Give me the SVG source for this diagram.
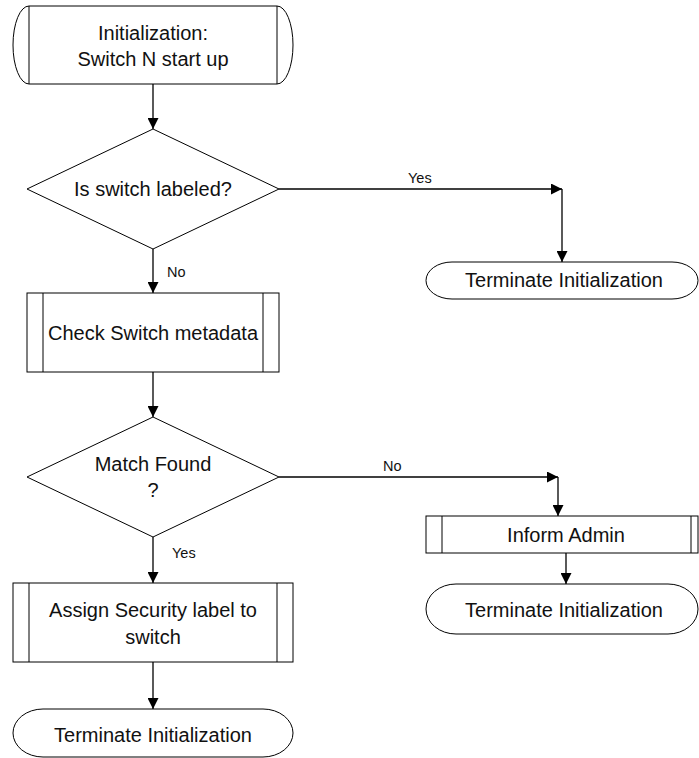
<svg xmlns="http://www.w3.org/2000/svg" width="699" height="758" viewBox="0 0 699 758">
<defs>
<marker id="arr" markerWidth="11" markerHeight="11" refX="11" refY="5.5" orient="auto" markerUnits="userSpaceOnUse">
<path d="M0,0 L11,5.5 L0,11 Z" fill="#000"/>
</marker>
<style>
.s{fill:#fff;stroke:#000;stroke-width:1}
.l{fill:none;stroke:#000;stroke-width:1}
.c{fill:none;stroke:#000;stroke-width:1.3;marker-end:url(#arr)}
.t{font-family:"Liberation Sans",Arial,sans-serif;font-size:20px;fill:#111;text-anchor:middle}
.e{font-family:"Liberation Sans",Arial,sans-serif;font-size:14.5px;fill:#111}
</style>
</defs>
<rect width="699" height="758" fill="#fff"/>
<g id="connectors">
<path class="c" d="M153,84 V129"/>
<path class="c" d="M153,249 V293"/>
<path class="c" d="M279,189 H562"/>
<path class="c" d="M562,189 V262"/>
<path class="c" d="M153,372 V417"/>
<path class="c" d="M279,477 H558"/>
<path class="c" d="M558,477 V516"/>
<path class="c" d="M566,553 V584"/>
<path class="c" d="M153,537 V583"/>
<path class="c" d="M153,662 V709"/>
<text class="e" x="408" y="183">Yes</text>
<text class="e" x="167" y="277">No</text>
<text class="e" x="383" y="471">No</text>
<text class="e" x="172" y="558">Yes</text>
</g>
<g id="start">
<path class="s" d="M29,6 H277 A16,39 0 0 1 277,84 H29 A16,39 0 0 1 29,6 Z"/>
<path class="l" d="M29,6 V84 M277,6 V84"/>
<text class="t" x="153" y="39.5">Initialization:</text>
<text class="t" x="153" y="65.5">Switch N start up</text>
</g>
<g id="decision1">
<path class="s" d="M153,129 L279,189 L153,249 L27,189 Z"/>
<text class="t" x="153" y="196">Is switch labeled?</text>
</g>
<g id="terminate1">
<rect class="s" x="426" y="262" width="272" height="37" rx="26" ry="18.5"/>
<text class="t" x="564" y="287">Terminate Initialization</text>
</g>
<g id="check">
<rect class="s" x="27" y="293" width="252" height="79"/>
<path class="l" d="M43,293 V372 M263,293 V372"/>
<text class="t" x="153" y="340">Check Switch metadata</text>
</g>
<g id="decision2">
<path class="s" d="M153,417 L279,477 L153,537 L27,477 Z"/>
<text class="t" x="153" y="471">Match Found</text>
<text class="t" x="153" y="497">?</text>
</g>
<g id="inform">
<rect class="s" x="426" y="516" width="272" height="37"/>
<path class="l" d="M442,516 V553 M691,516 V553"/>
<text class="t" x="566" y="542">Inform Admin</text>
</g>
<g id="terminate2">
<rect class="s" x="426" y="584" width="272" height="50" rx="30" ry="25"/>
<text class="t" x="564" y="617">Terminate Initialization</text>
</g>
<g id="assign">
<rect class="s" x="13" y="583" width="280" height="79"/>
<path class="l" d="M29,583 V662 M277,583 V662"/>
<text class="t" x="153" y="617">Assign Security label to</text>
<text class="t" x="153" y="644">switch</text>
</g>
<g id="terminate3">
<rect class="s" x="13" y="709" width="280" height="48" rx="30" ry="24"/>
<text class="t" x="153" y="742">Terminate Initialization</text>
</g>
</svg>
